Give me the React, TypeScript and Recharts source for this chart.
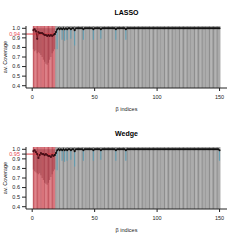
import { ComposedChart, Bar, Line, XAxis, YAxis, ReferenceLine } from "recharts"

// beta indices 1..150, first 18 are the active (red) ones
const betaIndex = Array.from({ length: 150 }, (_, i) => i + 1)
const redCount = 18

const xTicks = [0, 50, 100, 150]
const yTicks = [0.4, 0.5, 0.6, 0.7, 0.8, 0.9, 1.0]

const lassoCoverage = [
  0.98, 0.99, 0.97, 0.89, 0.96, 0.95, 0.95, 0.95, 0.94, 0.93,
  0.93, 0.92, 0.93, 0.92, 0.93, 0.92, 0.93, 0.94, 0.96, 0.99,
  1, 0.99, 1, 0.99, 1, 0.99, 1, 0.99, 1, 1,
  0.99, 1, 1, 0.98, 1, 1, 1, 1, 1, 1,
  0.99, 1, 1, 1, 1, 1, 1, 1, 0.99, 1,
  1, 1, 1, 1, 0.99, 1, 1, 1, 1, 1,
  1, 1, 1, 1, 1, 1, 0.99, 1, 1, 1,
  1, 1, 1, 1, 0.99, 1, 1, 1, 1, 1,
  1, 1, 1, 1, 1, 1, 1, 1, 1, 1,
  1, 1, 1, 1, 1, 1, 1, 1, 1, 1,
  1, 1, 1, 1, 1, 1, 1, 1, 1, 1,
  1, 1, 1, 1, 1, 1, 1, 1, 1, 1,
  1, 1, 1, 1, 1, 1, 1, 1, 1, 1,
  1, 1, 1, 1, 1, 1, 1, 1, 1, 1,
  1, 1, 1, 1, 1, 1, 1, 1, 1, 1,
]
const lassoBandLow = [
  0.78, 0.76, 0.77, 0.74, 0.75, 0.74, 0.72, 0.7, 0.67, 0.65,
  0.63, 0.62, 0.64, 0.67, 0.7, 0.74, 0.76, 0.78,
]
const lassoErrIndex = [20, 24, 26, 28, 31, 34, 41, 49, 55, 67, 75]
const lassoErrLow = [0.78, 0.88, 0.87, 0.88, 0.89, 0.82, 0.88, 0.88, 0.89, 0.88, 0.88]
const lassoTarget = 0.94

const wedgeCoverage = [
  0.98, 0.99, 0.97, 0.95, 0.91, 0.94, 0.96, 0.95, 0.95, 0.94,
  0.95, 0.94, 0.93, 0.93, 0.92, 0.94, 0.93, 0.94, 0.96, 0.99,
  1, 0.99, 1, 0.99, 1, 0.99, 1, 0.99, 1, 1,
  0.99, 1, 1, 0.98, 1, 1, 1, 1, 1, 1,
  0.99, 1, 1, 1, 1, 1, 1, 1, 0.99, 1,
  1, 1, 1, 1, 0.99, 1, 1, 1, 1, 1,
  1, 1, 1, 1, 1, 1, 0.99, 1, 1, 1,
  1, 1, 1, 1, 0.99, 1, 1, 1, 1, 1,
  1, 1, 1, 1, 1, 1, 1, 1, 1, 1,
  1, 1, 1, 1, 1, 1, 1, 1, 1, 1,
  1, 1, 1, 1, 1, 1, 1, 1, 1, 1,
  1, 1, 1, 1, 1, 1, 1, 1, 1, 1,
  1, 1, 1, 1, 1, 1, 1, 1, 1, 1,
  1, 1, 1, 1, 1, 1, 1, 1, 1, 1,
  1, 1, 1, 1, 1, 1, 1, 1, 1, 0.99,
]
const wedgeBandLow = [
  0.79, 0.77, 0.76, 0.75, 0.74, 0.75, 0.73, 0.7, 0.68, 0.65,
  0.64, 0.63, 0.65, 0.68, 0.71, 0.74, 0.77, 0.79,
]
const wedgeErrIndex = [20, 24, 26, 28, 31, 34, 41, 49, 55, 67, 75, 150]
const wedgeErrLow = [0.78, 0.88, 0.87, 0.88, 0.89, 0.82, 0.88, 0.88, 0.89, 0.88, 0.88, 0.88]
const wedgeTarget = 0.95

const xDomain: [number, number] = [-4.96, 155.96]
const yDomain: [number, number] = [0.376, 1.024]
const font = "'Liberation Sans', Arial, sans-serif"

function buildRows(cov: number[], bandLow: number[], errIndex: number[], errLow: number[]) {
  return betaIndex.map((idx, i) => {
    const e = errIndex.indexOf(idx)
    return {
      idx,
      cov: cov[i],
      covRed: idx <= redCount ? cov[i] : null,
      covBlack: idx >= redCount ? cov[i] : null,
      band: idx <= redCount ? [bandLow[i], 1] : null,
      err: e >= 0 ? [errLow[e], cov[i]] : null,
    }
  })
}

const stripe = (props: any) => {
  const { x, y, width, height, index } = props
  const inRed = index < redCount
  const dark = index % 3 === 0
  const fill = inRed ? (dark ? "#c45a63" : "#d9737b") : dark ? "#8e8e8e" : "#ababab"
  return <rect key={`bg-${index}`} x={x} y={y} width={width + 0.4} height={height} fill={fill} />
}

function YTick(props: any) {
  const { x, y, payload, target } = props
  const isTarget = Math.abs(payload.value - target) < 1e-9
  return (
    <text x={x} y={y} dy="0.35em" textAnchor="end" fontSize={5.5} fontFamily={font} fill={isTarget ? "#e8474f" : "#222"}>
      {payload.value.toFixed(isTarget ? 2 : 1)}
    </text>
  )
}

function Panel({ title, rows, target }: { title: string; rows: any[]; target: number }) {
  return (
    <div style={{ position: "relative", width: 240, height: 121 }}>
      <ComposedChart width={240} height={121} data={rows} margin={{ top: 26, right: 13, bottom: 0, left: 0 }} barGap={0} barCategoryGap={0}>
        <XAxis
          xAxisId="a"
          dataKey="idx"
          type="number"
          domain={xDomain}
          ticks={xTicks}
          allowDataOverflow
          height={33}
          tickSize={3}
          tickMargin={4}
          stroke="#222"
          tick={{ fontSize: 5.5, fontFamily: font, fill: "#222" }}
        />
        <XAxis xAxisId="b" dataKey="idx" type="number" domain={xDomain} allowDataOverflow hide />
        <XAxis xAxisId="c" dataKey="idx" type="number" domain={xDomain} allowDataOverflow hide />
        <XAxis xAxisId="top" orientation="top" dataKey="idx" type="number" domain={xDomain} allowDataOverflow height={0} tick={false} tickLine={false} stroke="#222" />
        <YAxis
          type="number"
          domain={yDomain}
          ticks={[...yTicks, target]}
          interval={0}
          allowDataOverflow
          width={26}
          tickSize={4}
          stroke="#222"
          tick={<YTick target={target} />}
        />
        <YAxis yAxisId="right" orientation="right" type="number" domain={yDomain} allowDataOverflow width={0} tick={false} tickLine={false} stroke="#222" />
        <Bar xAxisId="a" dataKey="cov" barSize={1.25} fill="#000" fillOpacity={0} background={stripe} isAnimationActive={false} />
        <Bar xAxisId="b" dataKey="band" barSize={1.3} fill="#8f2e3a" fillOpacity={0.45} isAnimationActive={false} />
        <Bar xAxisId="c" dataKey="err" barSize={1.6} fill="#5d9db4" fillOpacity={0.9} isAnimationActive={false} />
        <ReferenceLine
          xAxisId="a"
          segment={[
            { x: xDomain[0], y: target },
            { x: redCount + 0.5, y: target },
          ]}
          stroke="#dd3a44"
          strokeWidth={1}
        />
        <Line xAxisId="a" dataKey="covRed" stroke="#7a1a26" strokeWidth={1} dot={{ r: 1.1, fill: "#4a0f18", stroke: "none" }} isAnimationActive={false} />
        <Line xAxisId="a" dataKey="covBlack" stroke="#111" strokeWidth={1} dot={{ r: 1.0, fill: "#111", stroke: "none" }} isAnimationActive={false} />
      </ComposedChart>
      <div style={{ position: "absolute", left: 26, width: 201, top: 8, textAlign: "center", fontFamily: font, fontWeight: "bold", fontSize: 7, lineHeight: "10px" }}>
        {title}
      </div>
      <div style={{ position: "absolute", left: 26, width: 201, top: 104, textAlign: "center", fontFamily: font, fontSize: 5.5, lineHeight: "10px", color: "#222" }}>
        β indices
      </div>
      <div
        style={{
          position: "absolute",
          left: 5,
          top: 57,
          transform: "translate(-50%, -50%) rotate(-90deg)",
          whiteSpace: "nowrap",
          fontFamily: font,
          fontSize: 5.5,
          lineHeight: "8px",
          color: "#222",
        }}
      >
        av. Coverage
      </div>
    </div>
  )
}

export default function App() {
  const lassoRows = buildRows(lassoCoverage, lassoBandLow, lassoErrIndex, lassoErrLow)
  const wedgeRows = buildRows(wedgeCoverage, wedgeBandLow, wedgeErrIndex, wedgeErrLow)
  return (
    <div style={{ position: "fixed", left: 0, top: 0, width: 240, height: 242, background: "#fff" }}>
      <Panel title="LASSO" rows={lassoRows} target={lassoTarget} />
      <Panel title="Wedge" rows={wedgeRows} target={wedgeTarget} />
    </div>
  )
}
